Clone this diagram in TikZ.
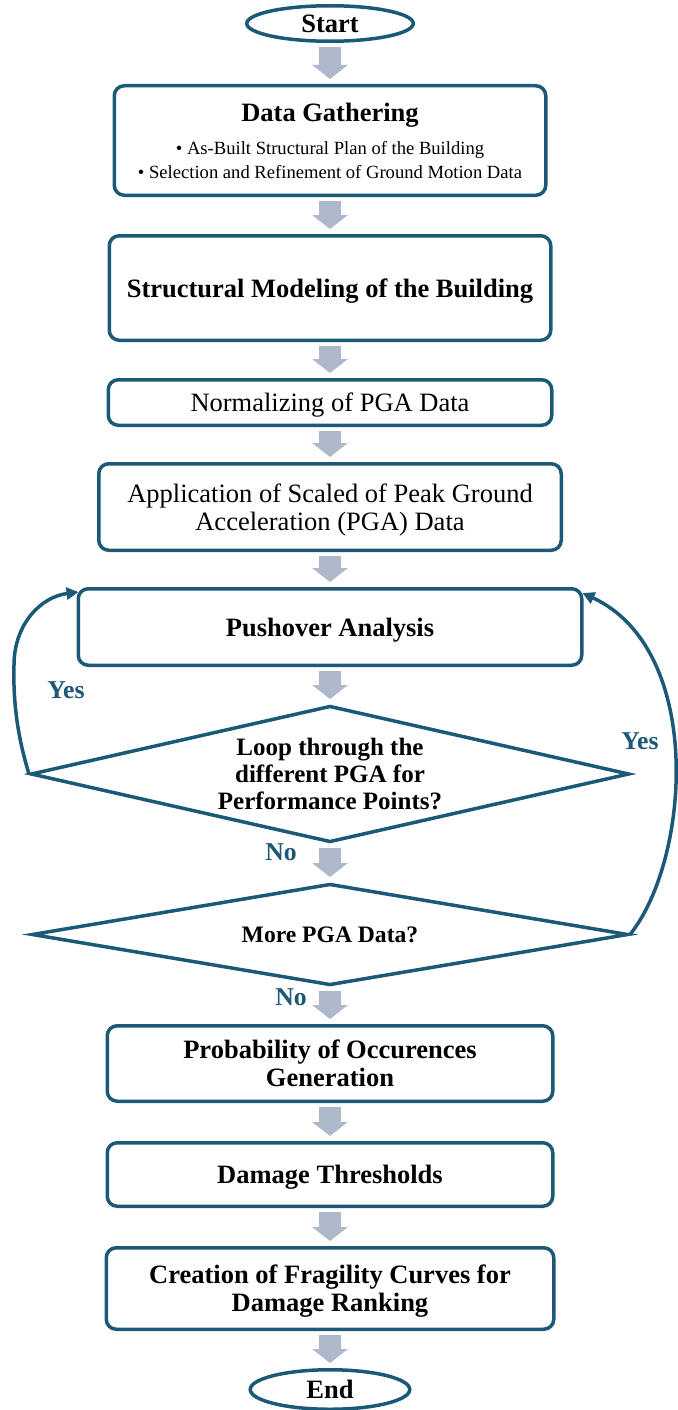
\documentclass[tikz,border=0pt]{standalone}
\usepackage{fontspec}
\setmainfont{Liberation Serif}
\usetikzlibrary{positioning, arrows.meta, shapes.geometric}
\definecolor{tealb}{RGB}{28,89,119}
\definecolor{arrg}{RGB}{173,185,202}
\newcommand{\bul}{\fontsize{18.6}{24}\selectfont}

\begin{document}
\begin{tikzpicture}[x=1pt, y=1pt, node distance=38pt,
    box/.style={draw=tealb, line width=3.5pt, rounded corners=10pt, align=center, inner sep=0pt, text depth=0pt, font=\fontsize{26.5}{28}\selectfont},
    bbox/.style={box, font=\fontsize{26.5}{28}\selectfont\bfseries},
    term/.style={draw=tealb, ellipse, line width=3.5pt, inner sep=0pt, font=\fontsize{26.5}{28}\selectfont\bfseries},
    deci/.style={draw=tealb, diamond, shape aspect=4, line width=3.5pt, inner sep=0pt, align=center, font=\fontsize{25}{27}\selectfont\bfseries},
    fat/.style={arrg, line width=22pt, shorten <=4pt, shorten >=5pt, -{Triangle[width=35pt,length=14pt]}},
    back/.style={tealb, line width=3.5pt, -{Triangle[width=12pt,length=12pt]}},
    lbl/.style={text=tealb, font=\fontsize{25.7}{28}\selectfont\bfseries}]
    \useasboundingbox (0,0) rectangle (677,-1410);

    \node[term, minimum width=166.5pt, minimum height=35.5pt] (start) at (330,-23.5) {Start};
    \node[box, minimum width=431.5pt, minimum height=109.5pt, below=41pt of start] (gather)
        {\textbf{Data Gathering}\\[5pt]{\bul • As-Built Structural Plan of the Building}\\[-4pt]{\bul • Selection and Refinement of Ground Motion Data}};
    \node[bbox, minimum width=441.5pt, minimum height=104.5pt, below=37pt of gather] (model) {Structural Modeling of the Building};
    \node[box, minimum width=443.5pt, minimum height=45.5pt, below=36pt of model] (norm) {Normalizing of PGA Data};
    \node[box, minimum width=462.5pt, minimum height=86.5pt, below=35pt of norm] (apply) {Application of Scaled of Peak Ground\\Acceleration (PGA) Data};
    \node[bbox, minimum width=503.5pt, minimum height=76.5pt, below=35pt of apply] (push) {Pushover Analysis};
    \node[deci, minimum width=598.5pt, minimum height=136.5pt, below=37pt of push] (loop) {Loop through the\\different PGA for\\Performance Points?};
    \node[deci, minimum width=596.5pt, minimum height=101.5pt, below=38pt of loop, font=\fontsize{23.6}{26}\selectfont\bfseries] (more) {More PGA Data?};
    \node[bbox, minimum width=445.5pt, minimum height=75.5pt, below=37pt of more] (prob) {Probability of Occurences\\Generation};
    \node[bbox, minimum width=445.5pt, minimum height=63.5pt, below=38pt of prob] (thresh) {Damage Thresholds};
    \node[bbox, minimum width=447.5pt, minimum height=81.5pt, below=38pt of thresh] (fragil) {Creation of Fragility Curves for\\Damage Ranking};
    \node[term, minimum width=159.5pt, minimum height=39.5pt, below=37pt of fragil] (end) {End};

    \draw[fat] (start) -- (gather);
    \draw[fat] (gather) -- (model);
    \draw[fat] (model) -- (norm);
    \draw[fat] (norm) -- (apply);
    \draw[fat] (apply) -- (push);
    \draw[fat] (push) -- (loop);
    \draw[fat] (loop) -- (more);
    \draw[fat] (more) -- (prob);
    \draw[fat] (prob) -- (thresh);
    \draw[fat] (thresh) -- (fragil);
    \draw[fat] (fragil) -- (end);

    \draw[back] (loop.west) .. controls (17,-735) and (13,-700) .. (14,-665)
        .. controls (14,-625) and (40,-597) .. ([xshift=2pt,yshift=-5pt]push.north west);
    \draw[back] (more.east) .. controls (690,-860) and (705,-650) .. ([xshift=-1pt,yshift=-6pt]push.north east);

    \node[lbl] (yes1) at (66,-690) {Yes};
    \node[lbl] (yes2) at (640,-741) {Yes};
    \node[lbl] (no1) at (281,-852) {No};
    \node[lbl] (no2) at (291,-997) {No};
\end{tikzpicture}
\end{document}
